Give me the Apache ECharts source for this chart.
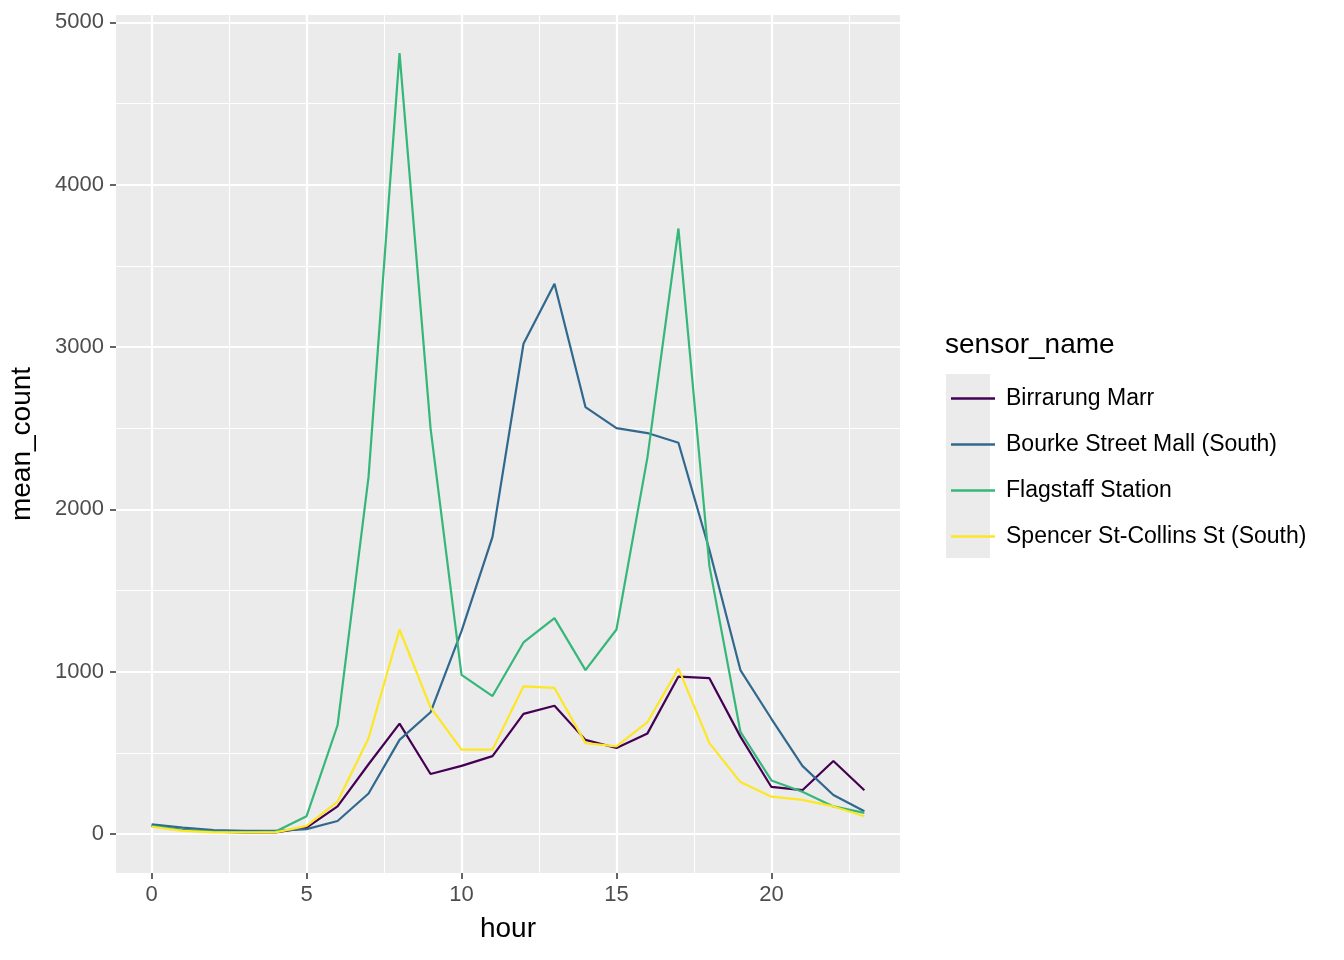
<!DOCTYPE html><html><head><meta charset="utf-8"><script src="https://cdn.jsdelivr.net/npm/echarts@6/dist/echarts.min.js"></script></head><body style="margin:0"><div id="c" style="width:1344px;height:960px"></div><script>
const hours=[0,1,2,3,4,5,6,7,8,9,10,11,12,13,14,15,16,17,18,19,20,21,22,23];
const birrarung=[50,25,15,10,10,40,170,430,680,370,420,480,740,790,580,530,620,970,960,600,290,270,450,270];
const bourke=[60,40,25,20,20,30,80,250,580,750,1250,1830,3020,3390,2630,2500,2470,2410,1750,1010,710,420,240,140];
const flagstaff=[50,25,15,10,15,110,670,2200,4810,2500,980,850,1180,1330,1010,1260,2320,3730,1650,630,330,260,170,130];
const spencer=[45,20,10,10,10,50,200,590,1260,780,520,520,910,900,560,540,690,1020,560,320,230,210,170,110];
const names=['Birrarung Marr','Bourke Street Mall (South)','Flagstaff Station','Spencer St-Collins St (South)'];
const colors=['#440154','#31688E','#35B779','#FDE725'];
const xMajor=[0,5,10,15,20], xMinor=[2.5,7.5,12.5,17.5,22.5];
const yMajor=[0,1000,2000,3000,4000,5000], yMinor=[500,1500,2500,3500,4500];
const font='Liberation Sans';
const ax=(major,minor,min,max,name)=>[
 {type:'value',min,max,name,nameLocation:'middle',
  nameTextStyle:{fontFamily:font,fontSize:28,color:'#000'},
  axisLine:{show:false,onZero:false},axisTick:{show:true,length:6,lineStyle:{color:'#333',width:1.5},customValues:major},
  axisLabel:{customValues:major,fontFamily:font,fontSize:22,color:'#4D4D4D',formatter:v=>String(v)},
  splitLine:{show:true,lineStyle:{color:'#fff',width:2.2}}},
 {type:'value',min,max,axisLine:{show:false,onZero:false},axisTick:{show:false,customValues:minor},
  axisLabel:{show:false,customValues:minor},splitLine:{show:true,lineStyle:{color:'#fff',width:1}}}];
const xa=ax(xMajor,xMinor,-1.15,24.15,'hour'); xa[0].nameGap=42; xa[0].axisLabel.margin=11;
const ya=ax(yMajor,yMinor,-240,5045,'mean_count'); ya[0].nameGap=80; ya[0].axisLabel.margin=12;
const data=[birrarung,bourke,flagstaff,spencer];
const c=echarts.init(document.getElementById('c'));
c.setOption({animation:false,
 grid:{left:116,right:444,top:15,bottom:87,backgroundColor:'#EBEBEB',show:true,borderWidth:0},
 xAxis:xa,yAxis:ya,
 graphic:[{type:'rect',left:946,top:374,shape:{width:44,height:184},style:{fill:'#EBEBEB'}},
  {type:'text',left:945,top:331,style:{text:'sensor_name',fontFamily:font,fontSize:28,fill:'#000'}}],
 legend:{orient:'vertical',left:946,top:382,itemGap:23,itemWidth:44,itemHeight:22,icon:'path://M4,10L40,10L40,12L4,12Z',
  textStyle:{fontFamily:font,fontSize:23,color:'#000',padding:[0,0,0,6]},data:names},
 series:data.map((d,i)=>({type:'line',name:names[i],data:hours.map((h,j)=>[h,d[j]]),showSymbol:false,
  lineStyle:{color:colors[i],width:2.2},itemStyle:{color:colors[i]}}))
});
</script></body></html>
